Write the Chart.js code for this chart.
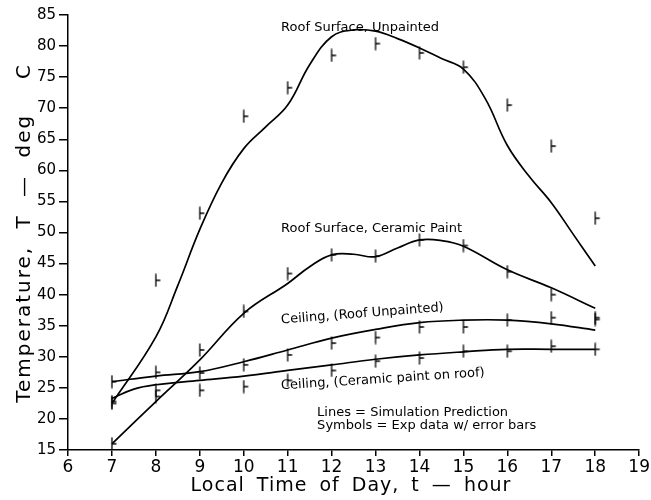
<!DOCTYPE html>
<html>
<head>
<meta charset="utf-8">
<script src="https://cdn.jsdelivr.net/npm/chart.js@4.4.1/dist/chart.umd.min.js"></script>
<style>
  html, body { margin: 0; padding: 0; background: #fff; }
  #wrap { width: 651px; height: 500px; }
</style>
</head>
<body>
<div id="wrap"><canvas id="chart"></canvas></div>
<script>
// simulation curves (hour, deg C)
const simRoofUnpaintedHours = [7, 8, 8.5, 9, 9.5, 10, 10.5, 11, 11.5, 12, 12.5, 13, 13.5, 14, 14.5, 15, 15.5, 16, 16.5, 17, 17.5, 18];
const simRoofUnpainted = [22.5, 33.2, 41.5, 50.5, 58, 63.5, 67, 70.5, 77, 81.5, 82.6, 82.4, 81.2, 79.7, 78, 76.3, 71.5, 64, 59, 54.8, 49.7, 44.6];

const simRoofCeramicHours = [7, 8, 9, 10, 11, 11.5, 12, 12.5, 13, 13.5, 14, 14.5, 15, 16, 17, 18];
const simRoofCeramic = [16, 22.8, 29.5, 37, 41.8, 44.5, 46.4, 46.5, 46.1, 47.5, 48.8, 48.7, 47.8, 44, 41.1, 37.8];

const simCeilUnpHours = [7, 8, 9, 10, 11, 12, 13, 14, 15, 16, 17, 18];
const simCeilUnp = [26, 26.9, 27.6, 29.2, 31.1, 33, 34.4, 35.5, 35.9, 35.9, 35.3, 34.3];

const simCeilCerHours = [7, 7.5, 8, 9, 10, 11, 12, 13, 14, 15, 16, 17, 18];
const simCeilCer = [23.3, 24.8, 25.5, 26.2, 26.9, 27.8, 28.7, 29.6, 30.3, 30.8, 31.2, 31.2, 31.2];

// experimental data
const expHours = [7, 8, 9, 10, 11, 12, 13, 14, 15, 16, 17, 18];
const expRoofUnpainted = [22.5, 42.3, 53.1, 68.7, 73.3, 78.5, 80.4, 78.9, 76.6, 70.5, 63.9, 52.3];
const expRoofCeramic = [16, 23.6, 31.1, 37.3, 43.4, 46.4, 46.2, 48.8, 47.9, 43.7, 40, 36];
const expCeilUnp = [26, 27.5, 27.4, 28.7, 30.3, 32.2, 33.1, 34.8, 34.8, 35.9, 36.3, 36.3];
const expCeilCer = [22.8, 24.6, 24.6, 25.2, 26.2, 27.8, 29.3, 29.8, 30.9, 30.9, 31.7, 31.2];

const xTicks = [6, 7, 8, 9, 10, 11, 12, 13, 14, 15, 16, 17, 18, 19];
const yTicks = [15, 20, 25, 30, 35, 40, 45, 50, 55, 60, 65, 70, 75, 80, 85];

const xTitle = 'Local Time of Day, t \u2014 hour';
const yTitle = 'Temperature, T \u2014 deg  C';

// curve labels: [text, hour, temp, rotation deg]
const notes = [
  ['Roof Surface, Unpainted', 10.85, 82.9, 0],
  ['Roof Surface, Ceramic Paint', 10.85, 50.7, 0],
  ['Ceiling, (Roof Unpainted)', 10.85, 35.9, -4.4],
  ['Ceiling, (Ceramic paint on roof)', 10.85, 25.3, -3.7],
  ['Lines = Simulation Prediction', 11.67, 21.0, 0],
  ['Symbols = Exp data w/ error bars', 11.67, 19.0, 0]
];

const FONT = "'DejaVu Sans', sans-serif";

function pts(xs, ys) {
  return xs.map((x, i) => ({ x: x, y: ys[i] }));
}

// error bar symbol: vertical bar with a stub to the right
function makeSymbol() {
  const c = document.createElement('canvas');
  c.width = 14; c.height = 14;
  const g = c.getContext('2d');
  g.strokeStyle = '#000';
  g.lineWidth = 1.3;
  g.beginPath();
  g.moveTo(7, 0.5); g.lineTo(7, 13.5);
  g.moveTo(7, 7); g.lineTo(11.5, 7);
  g.stroke();
  return c;
}
const sym = makeSymbol();

function simSet(xs, ys) {
  return {
    type: 'line', data: pts(xs, ys), borderColor: '#000', borderWidth: 1.7,
    pointRadius: 0, tension: 0.4, fill: false
  };
}
function expSet(ys) {
  return {
    type: 'scatter', data: pts(expHours, ys), pointStyle: sym,
    pointRadius: 7, showLine: false
  };
}

const notesPlugin = {
  id: 'notes',
  afterDatasetsDraw(chart) {
    const ctx = chart.ctx;
    const xs = chart.scales.x, ys = chart.scales.y;
    ctx.save();
    ctx.fillStyle = '#000';
    ctx.font = '13px ' + FONT;
    ctx.textBaseline = 'middle';
    ctx.textAlign = 'left';
    for (const n of notes) {
      ctx.save();
      ctx.translate(xs.getPixelForValue(n[1]), ys.getPixelForValue(n[2]));
      ctx.rotate(n[3] * Math.PI / 180);
      ctx.fillText(n[0], 0, 0);
      ctx.restore();
    }
    ctx.restore();

    // axis titles, spaced out like the plotter font
    ctx.save();
    ctx.fillStyle = '#000';
    ctx.textAlign = 'center';
    ctx.textBaseline = 'middle';
    ctx.font = '19px ' + FONT;
    ctx.letterSpacing = '1px';
    ctx.wordSpacing = '5px';
    ctx.fillText(xTitle, 351, 486);
    ctx.font = '20px ' + FONT;
    ctx.letterSpacing = '2px';
    ctx.wordSpacing = '9px';
    ctx.translate(25, 233);
    ctx.rotate(-Math.PI / 2);
    ctx.fillText(yTitle, 0, 0);
    ctx.restore();
  }
};

new Chart(document.getElementById('chart'), {
  data: {
    datasets: [
      simSet(simRoofUnpaintedHours, simRoofUnpainted),
      simSet(simRoofCeramicHours, simRoofCeramic),
      simSet(simCeilUnpHours, simCeilUnp),
      simSet(simCeilCerHours, simCeilCer),
      expSet(expRoofUnpainted),
      expSet(expRoofCeramic),
      expSet(expCeilUnp),
      expSet(expCeilCer)
    ]
  },
  options: {
    responsive: true,
    maintainAspectRatio: false,
    animation: false,
    layout: { padding: { top: 15, right: 10, left: 0, bottom: 0 } },
    plugins: { legend: { display: false }, tooltip: { enabled: false } },
    scales: {
      x: {
        type: 'linear', min: 6, max: 19,
        afterBuildTicks: s => { s.ticks = xTicks.map(v => ({ value: v })); },
        afterFit: s => { s.height = 50; },
        grid: { drawOnChartArea: false, drawTicks: true, tickLength: 6, color: '#000', lineWidth: 1.5 },
        border: { display: true, color: '#000', width: 1.5 },
        ticks: { color: '#000', font: { family: FONT, size: 17 }, padding: 1, maxRotation: 0 },
        title: { display: false }
      },
      y: {
        type: 'linear', min: 15, max: 85,
        afterBuildTicks: s => { s.ticks = yTicks.map(v => ({ value: v })); },
        afterFit: s => { s.width = 68; },
        grid: { drawOnChartArea: false, drawTicks: true, tickLength: 9, color: '#000', lineWidth: 1.5 },
        border: { display: true, color: '#000', width: 1.5 },
        ticks: { color: '#000', font: { family: FONT, size: 15 }, padding: 3 },
        title: { display: false }
      }
    }
  },
  plugins: [notesPlugin]
});
</script>
</body>
</html>
